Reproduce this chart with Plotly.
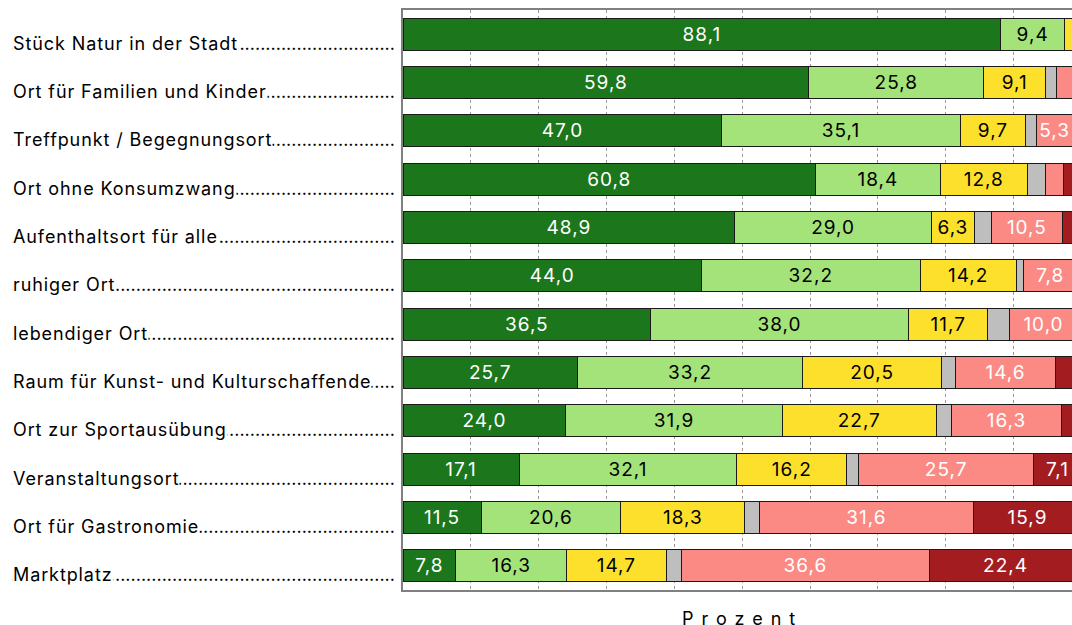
import plotly.graph_objects as go

categories = [
    "Stück Natur in der Stadt",
    "Ort für Familien und Kinder",
    "Treffpunkt / Begegnungsort",
    "Ort ohne Konsumzwang",
    "Aufenthaltsort für alle",
    "ruhiger Ort",
    "lebendiger Ort",
    "Raum für Kunst- und Kulturschaffende",
    "Ort zur Sportausübung",
    "Veranstaltungsort",
    "Ort für Gastronomie",
    "Marktplatz",
]

trifft_voll_zu = [88.1, 59.8, 47.0, 60.8, 48.9, 44.0, 36.5, 25.7, 24.0, 17.1, 11.5, 7.8]
trifft_eher_zu = [9.4, 25.8, 35.1, 18.4, 29.0, 32.2, 38.0, 33.2, 31.9, 32.1, 20.6, 16.3]
teils_teils = [1.5, 9.1, 9.7, 12.8, 6.3, 14.2, 11.7, 20.5, 22.7, 16.2, 18.3, 14.7]
weiss_nicht = [0.5, 1.6, 1.6, 2.7, 2.5, 1.1, 3.2, 2.1, 2.2, 1.8, 2.1, 2.2]
trifft_eher_nicht_zu = [0.3, 2.9, 5.3, 2.7, 10.5, 7.8, 10.0, 14.6, 16.3, 25.7, 31.6, 36.6]
trifft_gar_nicht_zu = [0.2, 0.8, 1.3, 2.6, 2.8, 0.7, 0.6, 3.9, 2.9, 7.1, 15.9, 22.4]

series = [
    ("trifft voll zu", trifft_voll_zu, "#1c761c", "white"),
    ("trifft eher zu", trifft_eher_zu, "#a4e27a", "black"),
    ("teils/teils", teils_teils, "#fde02c", "black"),
    ("weiß nicht", weiss_nicht, "#bebebe", "black"),
    ("trifft eher nicht zu", trifft_eher_nicht_zu, "#fb8a85", "white"),
    ("trifft gar nicht zu", trifft_gar_nicht_zu, "#a31d20", "white"),
]

FONT = "Inter"

def spaced(s, px):
    return f'<span style="letter-spacing:{px}px">{s}</span>'

def fmt(v):
    return spaced(f"{v:.1f}".replace(".", ","), 1) if v >= 5 else ""

fig = go.Figure()
for name, vals, color, tcol in series:
    fig.add_trace(go.Bar(
        name=name, y=categories, x=vals, orientation="h",
        marker=dict(color=color, line=dict(color="#1a1a1a", width=1)),
        text=[fmt(v) for v in vals], textposition="inside",
        insidetextanchor="middle", textangle=0,
        textfont=dict(family=FONT, size=19, color=tcol),
        hoverinfo="skip", showlegend=False,
    ))

W, H = 1072, 625
ml, mr, mt, mb = 403, 0, 10, 35
pw = W - ml - mr

annotations = []
for c in categories:
    annotations.append(dict(
        xref="paper", yref="y", x=(397 - ml) / pw, y=c, xanchor="right",
        yanchor="middle", yshift=-9, text="." * 150, showarrow=False,
        width=385, align="right",
        font=dict(family=FONT, size=18, color="black"),
    ))
    annotations.append(dict(
        xref="paper", yref="y", x=(12 - ml) / pw, y=c, xanchor="left",
        yanchor="middle", yshift=-9, text=spaced(c, 0.9), showarrow=False,
        bgcolor="white", borderpad=0,
        font=dict(family=FONT, size=18, color="black"),
    ))
annotations.append(dict(
    xref="x", yref="paper", x=50, y=0, yshift=-16, xanchor="center", yanchor="top",
    text=spaced("Prozent", 8), showarrow=False,
    font=dict(family=FONT, size=18, color="black"),
))

fig.update_layout(
    width=W, height=H,
    margin=dict(l=ml, r=mr, t=mt, b=mb),
    barmode="stack", bargap=0.337,
    plot_bgcolor="white", paper_bgcolor="white",
    uniformtext=dict(minsize=19, mode="show"),
    annotations=annotations,
    xaxis=dict(range=[0, 98.6], dtick=10, showgrid=True, gridcolor="#9a9a9a",
               griddash="dot", gridwidth=1, showticklabels=False, zeroline=False,
               showline=True, mirror=True, linecolor="#808080", linewidth=1.5),
    yaxis=dict(autorange="reversed", showticklabels=False, showgrid=False,
               showline=True, mirror=False, linecolor="#808080", linewidth=1.5),
)

fig.write_html(
    "out.html",
    config={"displayModeBar": False},
    post_script="document.body.style.margin='0';document.body.style.overflow='hidden';",
)
